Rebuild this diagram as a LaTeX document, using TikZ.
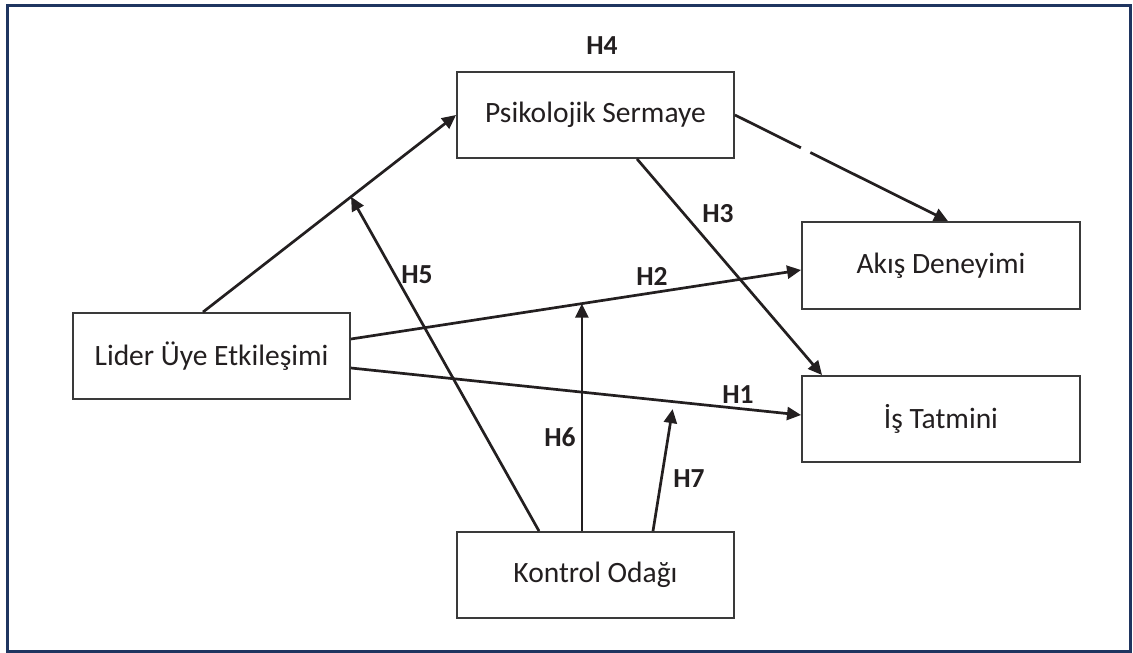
\documentclass[tikz,border=0pt]{standalone}
\usepackage{fontspec}
\setmainfont{Carlito}
\usetikzlibrary{arrows.meta}
\definecolor{framecol}{HTML}{1F3560}
\definecolor{ink}{HTML}{231F20}
\definecolor{boxline}{HTML}{3A3A3A}
\begin{document}
\begin{tikzpicture}[x=1pt,y=-1pt,
  construct/.style={draw=boxline, line width=1.9pt, fill=white, inner sep=0pt,
    minimum width=277pt, minimum height=86pt, text=ink,
    font=\fontsize{29.5}{34}\selectfont},
  hyp/.style={text=ink, inner sep=0pt, font=\fontsize{27.5}{32}\selectfont\bfseries},
  link/.style={draw=ink, line width=2.7pt, -{Triangle[length=14pt,width=13pt]}}]
% page and outer frame
\useasboundingbox (0,0) rectangle (1133,653);
\fill[white] (0,0) rectangle (1133,653);
\draw[framecol, line width=3pt] (7.5,5.5) rectangle (1130.5,651.5);

% constructs
\node[construct] (ps) at (595.5,115) {Psikolojik Sermaye};
\node[construct, minimum width=278pt, minimum height=87pt] (ak) at (941,265.5) {Akış Deneyimi};
\node[construct] (lu) at (211.5,356) {Lider Üye Etkileşimi};
\node[construct, minimum width=278pt] (is) at (941,419) {İş Tatmini};
\node[construct] (ko) at (595.5,575) {Kontrol Odağı};

% direct paths
\draw[link] ([xshift=-8.5pt]lu.north) -- coordinate[pos=0.585] (m5) (ps.west);
\draw[link] (ps.east) -- coordinate[pos=0.31] (g1) coordinate[pos=0.353] (g2) ([xshift=7pt]ak.north);
\draw[white, line width=4.5pt] (g1) -- (g2);
\draw[link] ([xshift=41.5pt]ps.south) -- ([xshift=21pt]is.north west);
\draw[link] ([yshift=17pt]lu.east) -- coordinate[pos=0.513] (m6) ([yshift=-4.5pt]ak.west);
\draw[link] ([yshift=-12pt]lu.east) -- coordinate[pos=0.7146] (m7) ([yshift=4pt]is.west);

% moderating paths from locus of control
\coordinate (h7tip) at ([yshift=-7.5pt]m7);
\draw[link] ([xshift=-56.5pt]ko.north) -- (m5);
\draw[link] (ko.north -| m6) -- (m6);
\draw[link] ([xshift=57.5pt]ko.north) -- (h7tip);

% hypothesis labels
\node[hyp] (h4) at (602,46) {H4};
\node[hyp] (h3) at (718,214) {H3};
\node[hyp] (h5) at (417,275) {H5};
\node[hyp] (h2) at (652,276) {H2};
\node[hyp] (h1) at (738,395) {H1};
\node[hyp] (h6) at (560,437) {H6};
\node[hyp] (h7) at (689,479) {H7};
\end{tikzpicture}
\end{document}
